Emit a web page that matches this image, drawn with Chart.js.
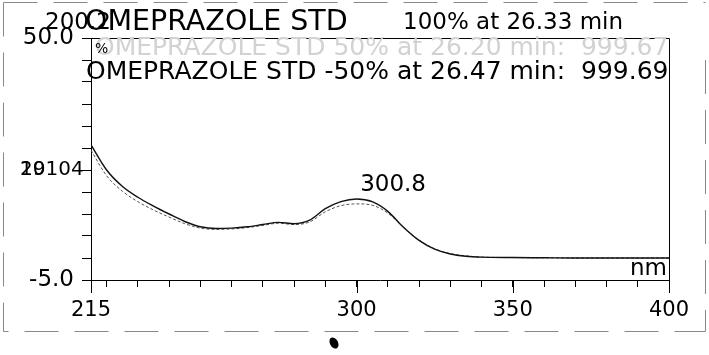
<!DOCTYPE html>
<html>
<head>
<meta charset="utf-8">
<script src="https://cdn.jsdelivr.net/npm/chart.js@4"></script>
<style>
  body { margin: 0; background: #fff; }
</style>
</head>
<body>
<canvas id="myChart" width="709" height="355"></canvas>
<script>
// wavelength (nm) for x-axis
const wavelengths = [215, 220, 225, 230, 235, 240, 245, 250, 255, 260, 265, 270, 275, 280, 285, 290, 295, 300, 305, 310, 315, 320, 325, 330, 335, 340, 350, 360, 370, 380, 390, 400]
// absorbance, 100% at 26.33 min (solid)
const std100 = [25.7, 20.0, 16.3, 13.8, 11.8, 10.0, 8.3, 7.1, 6.7, 6.8, 7.1, 7.6, 8.1, 7.8, 8.6, 11.2, 12.8, 13.4, 12.8, 10.6, 7.0, 4.0, 2.0, 0.9, 0.4, 0.2, 0.1, 0.05, 0.0, 0.0, 0.0, 0.0]
// absorbance, -50% at 26.47 min (dashed)
const std50 = [24.5, 18.7, 15.2, 12.8, 10.9, 9.3, 7.8, 6.8, 6.5, 6.6, 6.9, 7.4, 7.9, 7.6, 8.2, 10.5, 11.9, 12.3, 12.0, 10.2, 7.0, 4.1, 2.1, 1.0, 0.5, 0.2, 0.1, 0.05, 0.0, 0.0, 0.0, 0.0]

const xLabels = [215, 300, 350, 400]
const xMinor = [220, 230, 240, 250, 260, 270, 280, 290, 310, 320, 330, 340, 360, 370, 380, 390]
const yLabels = { '-5': '-5.0', '50': '50.0' }
const peakLabel = 300.8

const FONT = 'DejaVu Sans'

// extra text and frame drawn on top of the chart
const overlay = {
  id: 'overlay',
  afterDraw(chart) {
    const ctx = chart.ctx
    const a = chart.chartArea
    const x = chart.scales.x, y = chart.scales.y
    ctx.save()

    // top and right side of the box
    ctx.strokeStyle = '#000'
    ctx.lineWidth = 1
    ctx.beginPath()
    ctx.moveTo(a.left, a.top + 0.5)
    ctx.lineTo(a.right + 0.5, a.top + 0.5)
    ctx.lineTo(a.right + 0.5, a.bottom)
    ctx.stroke()

    // longer ticks for labelled wavelengths
    ctx.beginPath()
    xLabels.forEach(v => {
      const px = Math.round(x.getPixelForValue(v)) + 0.5
      ctx.moveTo(px, a.bottom)
      ctx.lineTo(px, a.bottom + 13)
    })
    ctx.stroke()

    // outer page frame (dashed)
    ctx.strokeStyle = '#888'
    ctx.setLineDash([34, 16])
    ctx.beginPath()
    ctx.moveTo(3.5, 2.5); ctx.lineTo(705.5, 2.5)
    ctx.moveTo(3.5, 2.5); ctx.lineTo(3.5, 331.5)
    ctx.lineTo(705.5, 331.5)
    ctx.moveTo(705.5, 60); ctx.lineTo(705.5, 331.5)
    ctx.stroke()
    ctx.setLineDash([])

    ctx.fillStyle = '#000'
    ctx.textBaseline = 'middle'
    ctx.textAlign = 'left'

    // header
    ctx.font = '23px ' + FONT
    ctx.fillText('200.2', 45, 23)
    ctx.fillText('100% at 26.33 min', 403, 23)
    ctx.font = '28.5px ' + FONT
    ctx.fillText('OMEPRAZOLE STD', 85, 23)

    // faint gray line for the 50% trace
    ctx.fillStyle = '#d2d2d2'
    ctx.font = '25px ' + FONT
    ctx.fillText('OMEPRAZOLE STD 50% at 26.20 min:  999.67', 95, 48)
    ctx.fillStyle = '#000'
    ctx.font = '14px ' + FONT
    ctx.fillText('%', 95, 49)

    ctx.font = '25px ' + FONT
    ctx.fillText('OMEPRAZOLE STD -50% at 26.47 min:  999.69', 86, 72)

    // overlapped label at 20
    ctx.font = '20px ' + FONT
    const py = y.getPixelForValue(20)
    ctx.fillText('19104', 20, py)
    ctx.fillText('20', 20, py)

    // peak label, placed over the maximum of the band near 300 nm
    let iPeak = 0
    wavelengths.forEach((w, i) => { if (w > 280 && (iPeak === 0 || std100[i] > std100[iPeak])) iPeak = i })
    ctx.font = '23px ' + FONT
    ctx.textAlign = 'center'
    ctx.fillText(String(peakLabel), x.getPixelForValue(peakLabel) + 34, y.getPixelForValue(std100[iPeak]) - 14)

    // unit
    ctx.textAlign = 'right'
    ctx.fillText('nm', a.right - 2, a.bottom - 11)

    // small pen mark below the plot
    ctx.beginPath()
    ctx.ellipse(334, 343, 4, 6, -0.5, 0, Math.PI * 2)
    ctx.fill()
    ctx.restore()
  }
}

function plotData() {
  const ctx = document.getElementById('myChart').getContext('2d')
  new Chart(ctx, {
    type: 'line',
    data: {
      datasets: [{
        data: wavelengths.map((w, i) => ({ x: w, y: std100[i] })),
        borderColor: '#111',
        borderWidth: 1.4,
        pointRadius: 0,
        cubicInterpolationMode: 'monotone'
      }, {
        data: wavelengths.map((w, i) => ({ x: w, y: std50[i] })),
        borderColor: '#555',
        borderWidth: 1,
        borderDash: [3, 2],
        pointRadius: 0,
        cubicInterpolationMode: 'monotone'
      }]
    },
    options: {
      responsive: false,
      animation: false,
      layout: { padding: { left: 0, top: 38, right: 40, bottom: 0 } },
      plugins: { legend: { display: false }, tooltip: { enabled: false } },
      scales: {
        x: {
          type: 'linear',
          min: 215,
          max: 400,
          afterBuildTicks: s => { s.ticks = xLabels.concat(xMinor).sort((p, q) => p - q).map(v => ({ value: v })) },
          afterFit: s => { s.height = 75 },
          ticks: {
            autoSkip: false,
            maxRotation: 0,
            padding: 11,
            color: '#000',
            font: { family: FONT, size: 21 },
            callback: v => xLabels.includes(v) ? String(v) : ''
          },
          grid: { drawOnChartArea: false, tickLength: 7, color: '#000' },
          border: { color: '#000', width: 1 }
        },
        y: {
          min: -5,
          max: 50,
          afterFit: s => { s.width = 91 },
          ticks: {
            stepSize: 5,
            autoSkip: false,
            padding: 8,
            color: '#000',
            font: { family: FONT, size: 23 },
            callback: v => yLabels[v] || ''
          },
          grid: { drawOnChartArea: false, tickLength: 9, color: '#000' },
          border: { color: '#000', width: 1 }
        }
      }
    },
    plugins: [overlay]
  })
}

plotData()
</script>
</body>
</html>
